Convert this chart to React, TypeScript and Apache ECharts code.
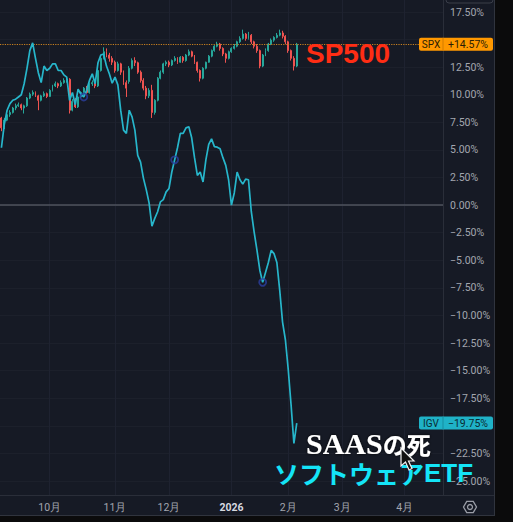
import { useEffect, useRef } from 'react';
import * as echarts from 'echarts';

// ---- axis categories (trading days) ----
const START_DATE = '2025-09-08';
const BAR_COUNT = 156;
const HOLIDAYS = ['2025-11-27', '2025-12-25', '2026-01-01', '2026-01-19', '2026-02-16', '2026-04-03'];

function tradingDays(start: string, count: number, holidays: string[]): string[] {
  const out: string[] = [];
  const d = new Date(start + 'T00:00:00Z');
  while (out.length < count) {
    const wd = d.getUTCDay();
    const s = d.toISOString().slice(0, 10);
    if (wd !== 0 && wd !== 6 && !holidays.includes(s)) out.push(s);
    d.setUTCDate(d.getUTCDate() + 1);
  }
  return out;
}
const dates = tradingDays(START_DATE, BAR_COUNT, HOLIDAYS);

// ---- SPX candles, % change: [open, close, low, high] ----
const spxOHLC: number[][] = [
  [7.9, 7.0, 6.7, 8.0], [7.0, 7.7, 6.9, 7.9], [7.7, 8.2, 7.6, 8.3], [8.2, 8.4, 8.0, 8.6], [8.4, 8.8, 8.3, 8.9],
  [8.8, 9.0, 8.6, 9.2], [9.0, 9.1, 8.9, 9.3], [9.1, 8.8, 8.6, 9.2], [8.8, 9.0, 8.3, 9.1], [9.0, 9.7, 8.9, 9.8],
  [9.7, 10.05, 9.6, 10.2], [10.05, 10.2, 9.9, 10.4], [10.2, 9.9, 9.8, 10.3], [9.9, 9.5, 8.6, 10.0], [9.5, 9.9, 9.4, 10.0],
  [9.9, 10.1, 9.8, 10.3], [10.1, 9.85, 9.7, 10.2], [9.85, 10.4, 9.8, 10.5], [10.4, 10.8, 10.3, 10.9], [10.8, 11.0, 10.7, 11.2],
  [11.0, 10.8, 10.6, 11.1], [10.8, 11.1, 10.7, 11.3], [11.1, 11.3, 11.0, 11.5], [11.3, 11.4, 11.1, 11.6], [11.4, 8.6, 8.3, 11.5],
  [8.6, 9.4, 8.5, 9.6], [9.4, 8.9, 8.8, 9.7], [8.9, 9.8, 8.8, 9.9], [9.8, 10.2, 9.7, 10.3], [10.2, 10.6, 10.0, 10.7],
  [10.6, 10.2, 10.1, 10.8], [10.2, 11.0, 10.1, 11.1], [11.0, 11.1, 10.8, 11.3], [11.1, 10.8, 10.6, 11.2], [10.8, 12.2, 10.7, 12.3],
  [12.2, 13.3, 12.1, 13.5], [13.3, 13.9, 13.2, 14.3], [13.9, 13.6, 13.4, 14.2], [13.6, 13.3, 13.0, 13.8], [13.3, 12.95, 12.7, 13.5],
  [12.95, 12.2, 12.0, 13.1], [12.2, 12.8, 12.1, 13.0], [12.8, 12.05, 11.8, 12.9], [12.05, 11.1, 10.9, 12.2], [11.1, 10.6, 9.8, 11.3],
  [11.2, 12.4, 11.0, 12.6], [12.4, 13.1, 12.3, 13.3], [13.1, 12.9, 12.6, 13.4], [12.9, 12.05, 11.9, 13.0], [12.05, 11.3, 11.1, 12.2],
  [11.3, 10.6, 10.4, 11.5], [10.6, 9.9, 9.6, 10.8], [9.9, 10.4, 9.7, 10.6], [10.4, 8.4, 7.9, 10.9], [8.4, 9.5, 8.2, 9.6],
  [9.5, 11.5, 9.4, 11.6], [11.5, 12.05, 11.4, 12.2], [12.05, 12.8, 11.9, 12.9], [12.8, 12.95, 12.6, 13.1], [12.95, 12.7, 12.5, 13.1],
  [12.7, 13.1, 12.6, 13.2], [13.1, 13.3, 13.0, 13.5], [13.3, 12.95, 12.8, 13.4], [12.95, 13.4, 12.9, 13.5], [13.4, 13.1, 12.9, 13.5],
  [13.1, 13.6, 13.0, 13.7], [13.6, 13.9, 13.5, 14.1], [13.9, 13.5, 13.4, 14.0], [13.5, 12.95, 12.8, 13.6], [12.95, 12.2, 12.0, 13.0],
  [12.2, 11.5, 11.2, 12.3], [11.5, 12.4, 11.4, 12.5], [12.4, 12.95, 12.3, 13.0], [12.95, 13.5, 12.9, 13.6], [13.5, 14.0, 13.4, 14.1],
  [14.0, 14.4, 13.9, 14.5], [14.4, 14.6, 14.3, 14.8], [14.6, 14.2, 14.0, 14.7], [14.2, 13.7, 13.5, 14.3], [13.7, 13.3, 12.9, 13.8],
  [13.3, 13.9, 13.2, 14.0], [13.9, 14.2, 13.8, 14.3], [14.2, 14.4, 14.1, 14.6], [14.4, 14.8, 14.3, 14.9], [14.8, 15.1, 14.7, 15.3],
  [15.1, 15.5, 15.0, 15.9], [15.5, 15.1, 14.9, 15.6], [15.1, 15.4, 15.0, 15.7], [15.4, 14.8, 14.6, 15.5], [14.8, 14.4, 14.2, 14.9],
  [14.4, 14.0, 13.8, 14.6], [14.0, 12.6, 12.4, 14.1], [12.6, 13.6, 12.5, 13.7], [13.6, 14.0, 13.5, 14.2], [14.0, 14.6, 13.9, 14.7],
  [14.6, 14.95, 14.5, 15.1], [14.95, 15.2, 14.8, 15.3], [15.2, 15.4, 15.1, 15.6], [15.4, 15.6, 15.3, 15.9], [15.6, 15.3, 15.1, 15.8],
  [15.3, 14.8, 14.6, 15.4], [14.8, 14.0, 13.8, 14.9], [14.0, 13.3, 13.1, 14.1], [13.3, 12.6, 12.2, 13.5], [12.6, 14.57, 12.5, 14.7],
];

// ---- IGV line, % change ----
const igv: number[] = [
  5.2, 7.3, 8.6, 9.2, 9.5, 9.6, 9.8, 10.0, 11.0, 12.4,
  14.0, 14.7, 13.3, 12.0, 11.1, 12.6, 12.2, 12.4, 12.8, 12.8,
  12.2, 12.2, 11.8, 11.6, 9.5, 10.2, 9.1, 10.5, 10.05, 9.8,
  10.4, 11.3, 11.9, 11.0, 12.9, 13.6, 13.7, 12.6, 11.9, 11.05,
  11.6, 10.9, 8.6, 6.8, 6.5, 8.6, 8.0, 6.8, 4.5, 3.9,
  2.45, 1.4, 0.2, -1.9, -1.2, -0.6, 0.3, 0.5, 1.2, 1.5,
  3.0, 4.1, 5.2, 6.5, 6.5, 7.0, 7.1, 6.1, 4.3, 2.7,
  3.0, 2.1, 4.1, 5.5, 6.0, 5.3, 5.25, 5.1, 4.3, 3.6,
  2.3, 0.0, 1.1, 3.0, 2.3, 1.9, 2.35, 2.3, -0.6, -2.45,
  -4.1, -5.9, -7.0, -6.1, -5.2, -4.1, -4.4, -5.2, -7.7, -10.6,
  -12.2, -14.9, -18.1, -21.6, -19.75,
];
const igvMarkerIdx = [29, 61, 92];

const SPX_LAST = 14.57;
const IGV_LAST = -19.75;
const Y_MIN = -25;
const Y_MAX = 17.5;
const Y_STEP = 2.5;
// tick labels hidden behind the last-value badges
const HIDDEN_TICKS = [15, -20];

const fmtPct = (v: number, sign = false) =>
  (v < 0 ? '\u2212' : sign && v > 0 ? '+' : '') + Math.abs(v).toFixed(2) + '%';

const isMonthStart = (i: number) => i > 0 && dates[i].slice(5, 7) !== dates[i - 1].slice(5, 7);
const monthLabel = (s: string) => {
  const m = Number(s.slice(5, 7));
  return m === 1 ? '{y|' + s.slice(0, 4) + '}' : m + '月';
};

const AXIS_TEXT = '#a3a6af';
const FONT = 'Roboto, "Noto Sans", sans-serif';

export default function App() {
  const ref = useRef<HTMLDivElement>(null);
  useEffect(() => {
    if (!ref.current) return;
    const chart = echarts.init(ref.current, null, { renderer: 'svg' });
    const option: any = {
      animation: false,
      backgroundColor: '#161a25',
      grid: [
        { left: 0, top: 0, width: 443, height: 495, show: false },
        { left: 0, top: 12, width: 443, height: 469, show: false },
      ],
      xAxis: [
        {
          type: 'category', gridIndex: 0, data: dates, boundaryGap: true,
          axisLine: { show: false },
          axisTick: { show: false, alignWithLabel: true, interval: (i: number) => isMonthStart(i) },
          axisLabel: {
            interval: (i: number) => isMonthStart(i),
            formatter: (v: string) => monthLabel(v),
            color: AXIS_TEXT, fontSize: 10.5, fontFamily: FONT, margin: 7,
            rich: { y: { color: '#d6d9e0', fontWeight: 'bold', fontSize: 10.5, fontFamily: FONT } },
          },
          splitLine: { show: true, alignWithLabel: true, interval: (i: number) => isMonthStart(i), lineStyle: { color: '#1e2230', width: 1 } },
        },
        { type: 'category', gridIndex: 1, data: dates, boundaryGap: true, show: false },
      ],
      yAxis: [
        { type: 'value', gridIndex: 0, min: 0, max: 1, show: false, splitLine: { show: false } },
        {
          type: 'value', gridIndex: 1, position: 'right', min: Y_MIN, max: Y_MAX, interval: Y_STEP,
          axisLine: { show: false }, axisTick: { show: false },
          axisLabel: {
            formatter: (v: number) => (HIDDEN_TICKS.some((h) => Math.abs(h - v) < 1e-6) ? '' : fmtPct(v)),
            color: AXIS_TEXT, fontSize: 10.5, fontFamily: FONT, margin: 7, align: 'left',
          },
          splitLine: { show: true, lineStyle: { color: '#1c202b', width: 1 } },
        },
      ],
      series: [
        {
          type: 'candlestick', xAxisIndex: 1, yAxisIndex: 1, data: spxOHLC, barMaxWidth: 2.4,
          itemStyle: { color: '#26a69a', color0: '#ef5350', borderColor: '#26a69a', borderColor0: '#ef5350', borderWidth: 1 },
          markLine: {
            silent: true, symbol: 'none', label: { show: false },
            lineStyle: { color: '#c9801f', type: 'dotted', width: 1.2 },
            data: [{ yAxis: SPX_LAST }],
          },
          z: 3,
        },
        {
          type: 'line', xAxisIndex: 1, yAxisIndex: 1, data: igv, showSymbol: false, symbol: 'none',
          lineStyle: { color: '#27b6cb', width: 1.7 }, z: 5,
          markLine: {
            silent: true, symbol: 'none', label: { show: false },
            lineStyle: { color: '#4f535e', type: 'solid', width: 1.5 },
            data: [{ yAxis: 0 }],
          },
        },
        {
          type: 'scatter', xAxisIndex: 1, yAxisIndex: 1, z: 6,
          data: igvMarkerIdx.map((i) => [i, igv[i]]),
          symbol: 'circle', symbolSize: 7,
          itemStyle: { color: 'rgba(0,0,0,0)', borderColor: '#2b3f9f', borderWidth: 1.8 },
        },
      ],
    };
    chart.setOption(option);

    const ySpx = chart.convertToPixel({ yAxisIndex: 1 }, SPX_LAST) as number;
    const yIgv = chart.convertToPixel({ yAxisIndex: 1 }, IGV_LAST) as number;

    const badge = (id: string, y: number, name: string, val: string, fill: string, txt: string, divider: string) => ({
      type: 'group', id, z: 50,
      children: [
        { type: 'rect', z: 50, shape: { x: 419, y: y - 6.5, width: 24, height: 13, r: [2, 0, 0, 2] }, style: { fill } },
        { type: 'rect', z: 50, shape: { x: 443, y: y - 6.5, width: 50, height: 13, r: [0, 2, 2, 0] }, style: { fill } },
        { type: 'line', z: 51, shape: { x1: 443, y1: y - 6.5, x2: 443, y2: y + 6.5 }, style: { stroke: divider, lineWidth: 1 } },
        { type: 'text', z: 52, x: 431, y: y + 0.5, style: { text: name, fill: txt, font: '10px ' + FONT, align: 'center', verticalAlign: 'middle' } },
        { type: 'text', z: 52, x: 468, y: y + 0.5, style: { text: val, fill: txt, font: '10.5px ' + FONT, align: 'center', verticalAlign: 'middle' } },
      ],
    });

    const gearPts: number[][] = [];
    for (let k = 0; k < 6; k++) {
      const a = (Math.PI / 3) * k;
      gearPts.push([470 + 6.5 * Math.cos(a), 507 + 6.5 * Math.sin(a)]);
    }

    chart.setOption({
      graphic: [
        // frame
        { type: 'rect', z: 40, shape: { x: 495, y: 0, width: 18, height: 522 }, style: { fill: '#0b0b0c' } },
        { type: 'rect', z: 40, shape: { x: 0, y: 516, width: 513, height: 6 }, style: { fill: '#0b0b0c' } },
        { type: 'line', z: 41, shape: { x1: 494.5, y1: 0, x2: 494.5, y2: 516 }, style: { stroke: '#30343e', lineWidth: 1 } },
        { type: 'line', z: 41, shape: { x1: 0, y1: 515.5, x2: 495, y2: 515.5 }, style: { stroke: '#30343e', lineWidth: 1 } },
        { type: 'line', z: 10, shape: { x1: 443.5, y1: 0, x2: 443.5, y2: 495 }, style: { stroke: '#2a2e39', lineWidth: 1 } },
        { type: 'line', z: 10, shape: { x1: 0, y1: 495.5, x2: 495, y2: 495.5 }, style: { stroke: '#2a2e39', lineWidth: 1 } },
        { type: 'rect', z: 10, shape: { x: 446, y: -8, width: 47, height: 11, r: 3 }, style: { fill: 'none', stroke: '#3a3e49', lineWidth: 1 } },
        // gear
        { type: 'polygon', z: 10, shape: { points: gearPts }, style: { fill: 'none', stroke: '#9a9da6', lineWidth: 1.3 } },
        { type: 'circle', z: 10, shape: { cx: 470, cy: 507, r: 2.5 }, style: { fill: 'none', stroke: '#9a9da6', lineWidth: 1.3 } },
        // badges
        badge('spx', ySpx, 'SPX', fmtPct(SPX_LAST, true), '#ff9800', '#2b1d05', '#d27d00'),
        badge('igv', yIgv, 'IGV', fmtPct(IGV_LAST, true), '#1fb2c7', '#0b2b31', '#168da0'),
        // annotations
        {
          type: 'text', z: 60, x: 306, y: 53,
          style: { text: 'SP500', fill: '#ff2d14', font: 'bold 28px "Liberation Sans", Arial, sans-serif', verticalAlign: 'middle' },
        },
        {
          type: 'text', z: 60, x: 306, y: 443,
          style: {
            text: '{a|SAAS}{b|の死}', verticalAlign: 'middle',
            textShadowColor: 'rgba(0,0,0,0.9)', textShadowBlur: 3,
            rich: {
              a: { fill: '#ffffff', font: 'bold 30px "Liberation Serif", "DejaVu Serif", serif', lineHeight: 25 },
              b: { fill: '#ffffff', font: 'bold 24px "Noto Sans CJK JP", sans-serif', lineHeight: 25 },
            },
          },
        },
        {
          type: 'text', z: 60, x: 274, y: 473,
          style: {
            text: '{k|ソフトウェア}{e|ETF}', verticalAlign: 'middle',
            rich: {
              k: { fill: '#14e4f7', font: 'bold 25px "Noto Sans CJK JP", sans-serif', lineHeight: 26 },
              e: { fill: '#14e4f7', font: 'bold 26px "Liberation Sans", Arial, sans-serif', lineHeight: 26 },
            },
          },
        },
        // mouse cursor
        {
          type: 'polygon', z: 70,
          shape: { points: [[401, 448], [401, 466], [405.5, 462], [409, 470], [412, 468.5], [408.5, 461], [414, 461]] },
          style: { fill: '#111', stroke: '#f2f2f2', lineWidth: 1.2 },
        },
      ],
    });

    return () => chart.dispose();
  }, []);

  return <div ref={ref} style={{ position: 'fixed', left: 0, top: 0, width: 513, height: 522 }} />;
}
